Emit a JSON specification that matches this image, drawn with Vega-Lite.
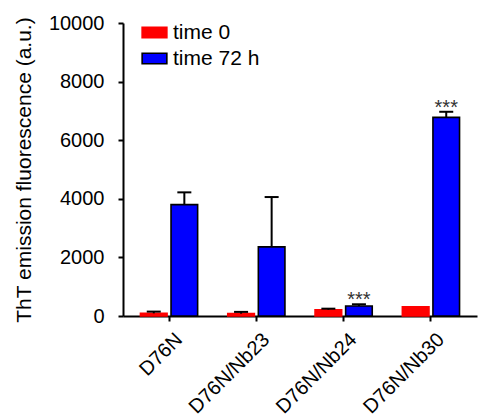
{
  "$schema": "https://vega.github.io/schema/vega-lite/v6.json",
  "autosize": {"type": "none"},
  "padding": {"left": 123, "top": 23, "right": 4, "bottom": 104},
  "width": 354,
  "height": 293,
  "background": "white",
  "config": {
    "view": {"stroke": null},
    "font": "Liberation Sans",
    "axis": {"grid": false, "domainColor": "black", "domainWidth": 2, "tickColor": "black", "tickWidth": 2, "tickSize": 5, "labelColor": "black", "titleColor": "black", "labelFont": "Liberation Sans", "titleFont": "Liberation Sans", "titleFontWeight": "normal"},
    "legend": {"labelFont": "Liberation Sans"}
  },
  "data": {
    "values": [
      {"group": "D76N", "time": "time 0", "value": 90, "err": 150, "sig": ""},
      {"group": "D76N", "time": "time 72 h", "value": 3800, "err": 4220, "sig": ""},
      {"group": "D76N/Nb23", "time": "time 0", "value": 80, "err": 140, "sig": ""},
      {"group": "D76N/Nb23", "time": "time 72 h", "value": 2360, "err": 4060, "sig": ""},
      {"group": "D76N/Nb24", "time": "time 0", "value": 210, "err": 250, "sig": ""},
      {"group": "D76N/Nb24", "time": "time 72 h", "value": 340, "err": 400, "sig": "***"},
      {"group": "D76N/Nb30", "time": "time 0", "value": 310, "err": null, "sig": ""},
      {"group": "D76N/Nb30", "time": "time 72 h", "value": 6780, "err": 6970, "sig": "***"}
    ]
  },
  "encoding": {
    "x": {"field": "group", "type": "nominal", "sort": null, "scale": {"paddingInner": 0.345},
      "axis": {"title": null, "labelAngle": -45, "labelAlign": "right", "labelBaseline": "top", "labelFontSize": 20, "labelPadding": 8, "labelOffset": 3}},
    "xOffset": {"field": "time", "type": "nominal", "sort": null, "scale": {"paddingInner": 0.13, "paddingOuter": 0}}
  },
  "layer": [
    {
      "mark": {"type": "bar", "strokeWidth": 1.6},
      "encoding": {
        "y": {"field": "value", "type": "quantitative", "scale": {"domain": [0, 10000], "nice": false},
          "axis": {"title": "ThT emission fluorescence (a.u.)", "titleFontSize": 21, "titlePadding": 14, "values": [0, 2000, 4000, 6000, 8000, 10000], "format": "d", "labelFontSize": 20, "labelPadding": 14}},
        "fill": {"field": "time", "type": "nominal", "scale": {"domain": ["time 0", "time 72 h"], "range": ["#ff0000", "#0000ff"]},
          "legend": {"title": null, "orient": "none", "legendX": 21, "legendY": -1, "padding": 0, "symbolType": "M-1.9,-0.8H1.9V0.8H-1.9Z", "symbolSize": 169, "symbolStrokeWidth": 1.6, "labelFontSize": 21, "labelOffset": 8, "rowPadding": 4, "labelColor": "black"}},
        "stroke": {"field": "time", "type": "nominal", "scale": {"domain": ["time 0", "time 72 h"], "range": ["#ff0000", "#000000"]}, "legend": {"title": null, "orient": "none", "legendX": 21, "legendY": -1, "padding": 0, "symbolType": "M-1.9,-0.8H1.9V0.8H-1.9Z", "symbolSize": 169, "symbolStrokeWidth": 1.6, "labelFontSize": 21, "labelOffset": 8, "rowPadding": 4, "labelColor": "black"}}
      }
    },
    {
      "transform": [{"filter": "isValid(datum.err)"}],
      "mark": {"type": "rule", "color": "black", "strokeWidth": 2},
      "encoding": {
        "y": {"field": "value", "type": "quantitative"},
        "y2": {"field": "err"}
      }
    },
    {
      "transform": [{"filter": "isValid(datum.err)"}],
      "mark": {"type": "tick", "color": "black", "thickness": 2, "size": 14, "opacity": 1},
      "encoding": {
        "y": {"field": "err", "type": "quantitative"}
      }
    },
    {
      "transform": [{"filter": "datum.sig != ''"}],
      "mark": {"type": "text", "fontSize": 20, "color": "#333333", "baseline": "alphabetic", "dy": 2},
      "encoding": {
        "y": {"field": "err", "type": "quantitative"},
        "text": {"field": "sig"}
      }
    }
  ]
}
